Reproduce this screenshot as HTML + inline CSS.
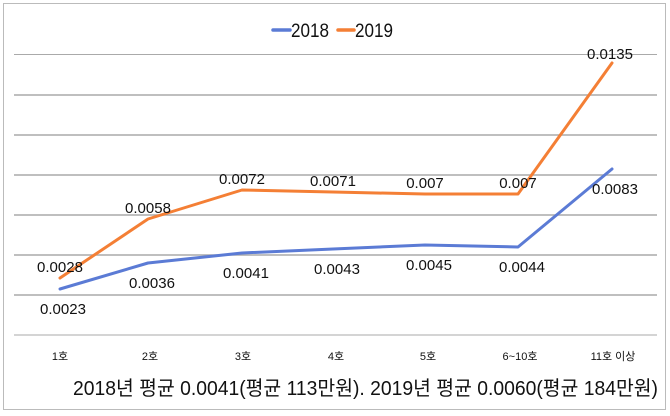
<!DOCTYPE html>
<html><head><meta charset="utf-8"><style>
body{margin:0;background:#fff}
svg{display:block}
text{font-family:"Liberation Sans","Noto Sans CJK KR",sans-serif;fill:#111}
</style></head><body>
<svg width="670" height="416" viewBox="0 0 670 416">
<rect x="3.5" y="3.5" width="662" height="406" fill="#fff" stroke="#bbb"/>
<g stroke="#aaa" stroke-width="1">
<line x1="14" x2="657" y1="54.5" y2="54.5"/>
<line x1="14" x2="657" y1="95" y2="95" stroke-width="1.5"/>
<line x1="14" x2="657" y1="135" y2="135" stroke-width="1.5"/>
<line x1="14" x2="657" y1="175" y2="175" stroke-width="1.5"/>
<line x1="14" x2="657" y1="215" y2="215" stroke-width="1.5"/>
<line x1="14" x2="657" y1="255" y2="255" stroke-width="1.5"/>
<line x1="14" x2="657" y1="295" y2="295" stroke-width="1.5"/>
<line x1="14" x2="657" y1="335" y2="335"/>
</g>
<line x1="273" x2="290" y1="30" y2="30" stroke="#5b7bd5" stroke-width="3.5" stroke-linecap="round"/>
<text x="291" y="37" font-size="19" textLength="38" lengthAdjust="spacingAndGlyphs">2018</text>
<line x1="338" x2="354" y1="30" y2="30" stroke="#f47f35" stroke-width="3.5" stroke-linecap="round"/>
<text x="355" y="37" font-size="19" textLength="38" lengthAdjust="spacingAndGlyphs">2019</text>
<polyline fill="none" stroke="#5b7bd5" stroke-width="3" stroke-linejoin="round" stroke-linecap="round" points="60,289 148,263 242,253 333,249 425,245 518,247 612,169"/>
<polyline fill="none" stroke="#f47f35" stroke-width="3" stroke-linejoin="round" stroke-linecap="round" points="60,278 148,219 242,190 333,192 425,194 518,194 612,63"/>
<g font-size="15" text-anchor="middle">
<text x="60" y="272">0.0028</text>
<text x="148" y="213">0.0058</text>
<text x="242" y="184">0.0072</text>
<text x="333" y="186">0.0071</text>
<text x="425" y="188">0.007</text>
<text x="518" y="188">0.007</text>
<text x="610" y="59">0.0135</text>
<text x="63" y="314">0.0023</text>
<text x="152" y="288">0.0036</text>
<text x="246" y="278">0.0041</text>
<text x="337" y="274">0.0043</text>
<text x="429" y="270">0.0045</text>
<text x="522" y="272">0.0044</text>
<text x="615" y="194">0.0083</text>
</g>
<g font-size="11" text-anchor="middle" fill="#333">
<text x="60" y="360">1호</text>
<text x="150" y="360">2호</text>
<text x="243" y="360">3호</text>
<text x="336" y="360">4호</text>
<text x="428" y="360">5호</text>
<text x="520" y="360">6~10호</text>
<text x="613" y="360">11호 이상</text>
</g>
<text x="73" y="395" font-size="20" textLength="585" lengthAdjust="spacingAndGlyphs">2018년 평균 0.0041(평균 113만원). 2019년 평균 0.0060(평균 184만원)</text>
</svg>
</body></html>
